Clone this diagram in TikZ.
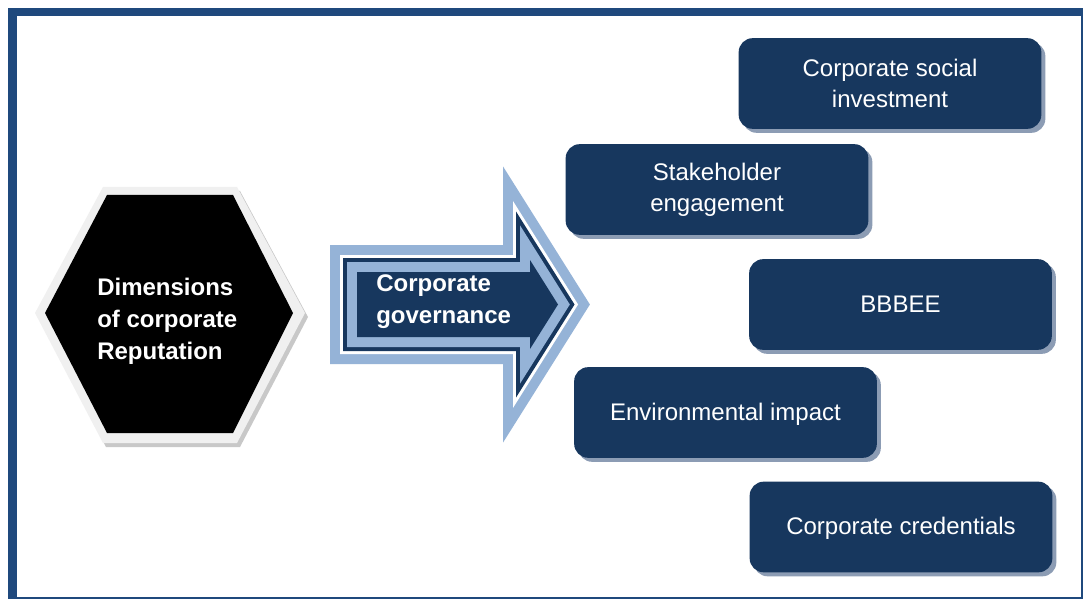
\documentclass[tikz,border=0pt]{standalone}
\usepackage{fontspec}
\setmainfont{Liberation Sans}
\usetikzlibrary{shadows}
\definecolor{frameblue}{RGB}{31,73,125}
\definecolor{navy}{RGB}{23,55,94}
\definecolor{lightblue}{RGB}{149,179,215}
\definecolor{boxshadow}{RGB}{140,156,180}
\definecolor{hexring}{RGB}{240,240,240}
\definecolor{hexshadow}{RGB}{200,200,200}
\tikzset{
  itembox/.style={fill=navy, text=white, rounded corners=10.5pt, align=center,
    font=\fontsize{18}{23.5}\selectfont, inner sep=0pt,
    minimum width=227pt, minimum height=68pt,
    drop shadow={shadow xshift=3pt, shadow yshift=-3pt, fill=boxshadow, opacity=1}},
  oneline/.style={text height=12.9pt, text depth=1.2pt},
  boldtext/.style={text=white, align=left, anchor=west, inner sep=0pt,
    font=\bfseries\fontsize{18}{24}\selectfont},
}
\begin{document}
\begin{tikzpicture}[x=0.75pt,y=-0.75pt]
\useasboundingbox (0,0) rectangle (1085,599);
\fill[white] (0,0) rectangle (1085,599);
% frame
\fill[frameblue] (8,8) rectangle (1083.3,599);
\fill[white] (17,16) rectangle (1080.7,596.7);
% hexagon
\fill[hexshadow] ([shift={(3,4)}]35,313) -- ([shift={(3,4)}]103,187) -- ([shift={(3,4)}]237,187) -- ([shift={(3,4)}]305,313) -- ([shift={(3,4)}]237,443) -- ([shift={(3,4)}]103,443) -- cycle;
\fill[hexring] (35,313) -- (103,187) -- (237,187) -- (305,313) -- (237,443) -- (103,443) -- cycle;
\fill[black] (45,313) -- (107,195) -- (233,195) -- (293,313) -- (233,433) -- (107,433) -- cycle;
\node[boldtext] (dim) at (97,321) {Dimensions\\of corporate\\Reputation};
% arrow
\foreach \c/\w in {lightblue/40.5pt, white/25.5pt, navy/21pt, lightblue/15pt}
  \draw[\c, line width=\w, line join=miter, miter limit=10]
    (357,272) -- (530,272) -- (530,260) -- (558,304.5) -- (530,349) -- (530,337) -- (357,337) -- cycle;
\fill[navy] (357,272) -- (530,272) -- (530,260) -- (558,304.5) -- (530,349) -- (530,337) -- (357,337) -- cycle;
\node[boldtext] (gov) at (376,302) {Corporate\\governance};
% boxes
\node[itembox] (csi) at (890,83.5) {Corporate social\\investment};
\node[itembox] (se) at (717,189.5) {Stakeholder\\engagement};
\node[itembox, oneline] (bee) at (900.5,304.5) {BBBEE};
\node[itembox, oneline] (env) at (725.5,412.5) {Environmental impact};
\node[itembox, oneline] (cred) at (901,527) {Corporate credentials};
\end{tikzpicture}
\end{document}
